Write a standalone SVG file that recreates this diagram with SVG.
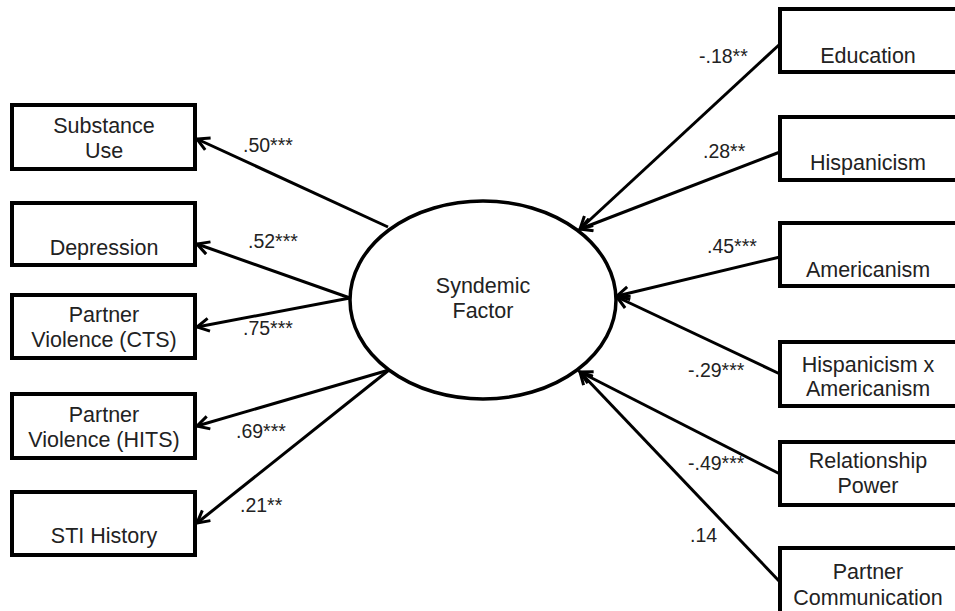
<svg xmlns="http://www.w3.org/2000/svg" width="955" height="611" viewBox="0 0 955 611">
<style>
.box{fill:#fff;stroke:#000;stroke-width:4}
.ell{fill:#fff;stroke:#000;stroke-width:3.5}
.t{font-family:"Liberation Sans",Arial,sans-serif;font-size:21.5px;fill:#222;text-anchor:middle}
.lbl{font-family:"Liberation Sans",Arial,sans-serif;font-size:19.5px;fill:#222}
.c{stroke:#000;stroke-width:3;fill:none;marker-end:url(#arr)}
</style>
<defs>
<marker id="arr" markerUnits="userSpaceOnUse" markerWidth="16" markerHeight="16" refX="14" refY="8" orient="auto">
<path d="M2,1.5 L14,8 L2,14.5" fill="none" stroke="#000" stroke-width="3"/>
</marker>
</defs>
<rect width="955" height="611" fill="#fff"/>
<g id="connectors">
<line class="c" x1="388" y1="227" x2="197" y2="139"/>
<line class="c" x1="350" y1="298" x2="197" y2="244"/>
<line class="c" x1="350" y1="298" x2="197" y2="327"/>
<line class="c" x1="389" y1="370" x2="197" y2="426"/>
<line class="c" x1="389" y1="370" x2="197" y2="523"/>
<line class="c" x1="780" y1="44" x2="580" y2="229"/>
<line class="c" x1="780" y1="152" x2="580" y2="229"/>
<line class="c" x1="780" y1="257" x2="617" y2="296"/>
<line class="c" x1="780" y1="374" x2="617" y2="297"/>
<line class="c" x1="780" y1="474" x2="580" y2="372"/>
<line class="c" x1="780" y1="582" x2="580" y2="372"/>
<text class="lbl" x="243" y="152">.50***</text>
<text class="lbl" x="248" y="248">.52***</text>
<text class="lbl" x="243" y="335">.75***</text>
<text class="lbl" x="236" y="438">.69***</text>
<text class="lbl" x="240" y="512">.21**</text>
<text class="lbl" x="699" y="63">-.18**</text>
<text class="lbl" x="703" y="158">.28**</text>
<text class="lbl" x="707" y="253">.45***</text>
<text class="lbl" x="688" y="377">-.29***</text>
<text class="lbl" x="688" y="470">-.49***</text>
<text class="lbl" x="690" y="542">.14</text>
</g>
<g id="syndemic">
<ellipse class="ell" cx="483" cy="300" rx="133" ry="99"/>
<text class="t" x="483" y="293">Syndemic</text>
<text class="t" x="483" y="318">Factor</text>
</g>
<g id="substance">
<rect class="box" x="12" y="105" width="183" height="64"/>
<text class="t" x="104" y="133">Substance</text>
<text class="t" x="104" y="158">Use</text>
</g>
<g id="depression">
<rect class="box" x="12" y="203" width="183" height="62"/>
<text class="t" x="104" y="255">Depression</text>
</g>
<g id="pv-cts">
<rect class="box" x="12" y="295" width="183" height="63"/>
<text class="t" x="104" y="322">Partner</text>
<text class="t" x="104" y="347">Violence (CTS)</text>
</g>
<g id="pv-hits">
<rect class="box" x="12" y="394" width="183" height="64"/>
<text class="t" x="104" y="422">Partner</text>
<text class="t" x="104" y="447">Violence (HITS)</text>
</g>
<g id="sti">
<rect class="box" x="12" y="492" width="183" height="63"/>
<text class="t" x="104" y="543">STI History</text>
</g>
<g id="education">
<rect class="box" x="780" y="9" width="180" height="63"/>
<text class="t" x="868" y="63">Education</text>
</g>
<g id="hispanicism">
<rect class="box" x="780" y="117" width="180" height="63"/>
<text class="t" x="868" y="170">Hispanicism</text>
</g>
<g id="americanism">
<rect class="box" x="780" y="223" width="180" height="63"/>
<text class="t" x="868" y="277">Americanism</text>
</g>
<g id="hispxam">
<rect class="box" x="780" y="342" width="180" height="64"/>
<text class="t" x="868" y="372">Hispanicism x</text>
<text class="t" x="868" y="396">Americanism</text>
</g>
<g id="relpower">
<rect class="box" x="780" y="442" width="180" height="63"/>
<text class="t" x="868" y="468">Relationship</text>
<text class="t" x="868" y="493">Power</text>
</g>
<g id="partnercomm">
<rect class="box" x="780" y="548" width="180" height="70"/>
<text class="t" x="868" y="579">Partner</text>
<text class="t" x="868" y="605">Communication</text>
</g>
</svg>
